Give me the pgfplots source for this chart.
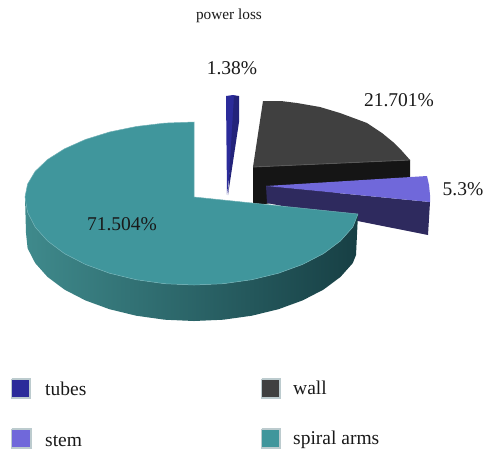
\documentclass[border=0pt]{standalone}
\usepackage{pgfplots}
\pgfplotsset{compat=1.18}
\usepackage{fontspec}
\setmainfont{Liberation Serif}
\definecolor{teal1}{HTML}{40969C}
\definecolor{tealL}{HTML}{3F8A8C}
\definecolor{tealM}{HTML}{2F666B}
\definecolor{tealD}{HTML}{173F44}
\definecolor{wallT}{HTML}{404040}
\definecolor{wallS}{HTML}{151515}
\definecolor{stemT}{HTML}{7068DA}
\definecolor{stemS}{HTML}{2E2A5E}
\definecolor{tubeT}{HTML}{2B2B9A}
\definecolor{tubeS}{HTML}{23237A}
\definecolor{halo}{HTML}{BCCBCE}
\tikzset{lab/.style={font=\fontsize{19.5}{20}\selectfont, inner sep=0pt, text=black!90}}
\begin{document}
\begin{tikzpicture}
\useasboundingbox (0,0) rectangle (486pt,451pt);
\begin{axis}[
  at={(0,0)}, anchor=south west,
  scale only axis, width=486pt, height=451pt,
  xmin=0, xmax=486, ymin=0, ymax=451, y dir=reverse,
  hide axis, clip=false, no markers,
  every axis plot/.append style={draw=none, line width=0pt},
]
% tubes
\addplot[fill=tubeT] coordinates {(226,96)(233,95)(239,96)(227,195)};
\addplot[fill=tubeS] coordinates {(234,96)(239,96)(239,122)(228,195)};
% wall
\addplot[fill=wallS] coordinates {(253,167)(410,160)(410,180)(253,206)};
\addplot[fill=wallT] coordinates {(263,101)(281,101)(297,103)(320,107)(340,113)(367,123)(382,133)(393,142)(402,151)(410,160)(253,167)};
\addplot[draw=gray!70!black, line width=0.8pt] coordinates {(253,167)(410,160)};
% stem
\addplot[fill=stemS] coordinates {(266,186)(430,202)(428,235)(267,203)};
\addplot[fill=stemT] coordinates {(266,186)(427,176)(429,185)(430,195)(430,202)};
% spiral arms, side
\addplot[left color=tealL, middle color=tealM, right color=tealD] coordinates {
(25,197)(27.6,212.3)(35.2,227.1)(47.6,241)(64.5,253.6)(85.4,264.4)(109.5,273.2)(136.2,279.7)(164.7,283.7)(194,285)(223.3,283.7)(251.8,279.7)(278.5,273.2)(302.6,264.4)(323.5,253.6)(340.4,241)(352.8,227.1)(358,214)
(356,255)(352.8,263.1)(340.4,277)(323.5,289.6)(302.6,300.4)(278.5,309.2)(251.8,315.7)(223.3,319.7)(194,321)(164.7,319.7)(136.2,315.7)(109.5,309.2)(85.4,300.4)(64.5,289.6)(47.6,277)(35.2,263.1)(27.6,248.3)(26,233)};
% spiral arms, top
\addplot[fill=teal1, draw=teal1!75!white, line width=0.5pt] coordinates {
(194,197)(194,122)(164.7,123.1)(136.2,126.5)(109.5,132)(85.4,139.5)(64.5,148.8)(47.6,159.5)(35.2,171.3)(27.6,184)(25,197)
(27.6,212.3)(35.2,227.1)(47.6,241)(64.5,253.6)(85.4,264.4)(109.5,273.2)(136.2,279.7)(164.7,283.7)(194,285)(223.3,283.7)(251.8,279.7)(278.5,273.2)(302.6,264.4)(323.5,253.6)(340.4,241)(352.8,227.1)(358,214)(194,197)};
% legend swatches
\addplot[fill=tubeT, draw=halo, line width=1.2pt] coordinates {(11.5,379)(30,379)(30,398)(11.5,398)(11.5,379)};
\addplot[fill=wallT, draw=halo, line width=1.2pt] coordinates {(261.5,379)(280,379)(280,398)(261.5,398)(261.5,379)};
\addplot[fill=stemT, draw=halo, line width=1.2pt] coordinates {(11.5,429)(31,429)(31,448)(11.5,448)(11.5,429)};
\addplot[fill=teal1, draw=halo, line width=1.2pt] coordinates {(261.5,429)(280,429)(280,448)(261.5,448)(261.5,429)};
% texts
\node[lab, font=\fontsize{15.3}{16}\selectfont] at (axis cs:229,16) {power loss};
\node[lab] at (axis cs:232,68) {1.38\%};
\node[lab] at (axis cs:399,100) {21.701\%};
\node[lab] at (axis cs:463,189) {5.3\%};
\node[lab] at (axis cs:122,224) {71.504\%};
\node[lab, anchor=base west] at (axis cs:45,395) {tubes};
\node[lab, anchor=base west] at (axis cs:293,394) {wall};
\node[lab, anchor=base west] at (axis cs:45,446) {stem};
\node[lab, anchor=base west] at (axis cs:293,444) {spiral arms};
\end{axis}
\end{tikzpicture}
\end{document}
